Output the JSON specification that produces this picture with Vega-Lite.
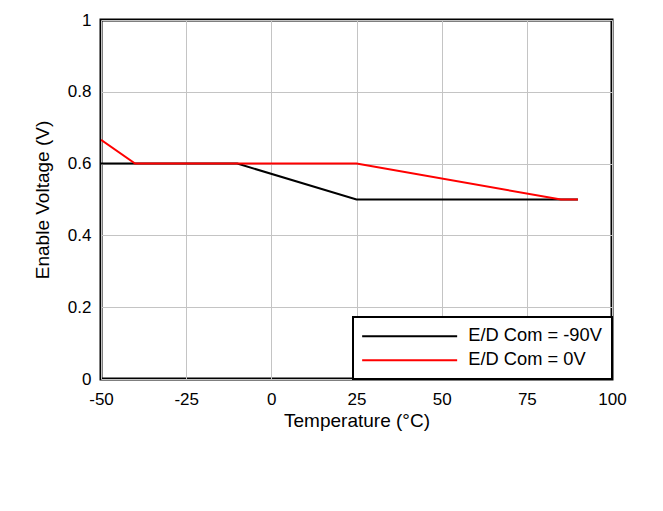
{
  "$schema": "https://vega.github.io/schema/vega-lite/v6.json",
  "width": 511,
  "height": 359,
  "autosize": {"type": "none"},
  "padding": {"left": 101, "top": 20, "right": 51, "bottom": 132},
  "background": "white",
  "config": {
    "font": "Liberation Sans",
    "view": {"stroke": "black", "strokeWidth": 3},
    "axis": {
      "labelFont": "Liberation Sans",
      "titleFont": "Liberation Sans",
      "labelFontSize": 17,
      "titleFontSize": 19,
      "labelColor": "black",
      "titleColor": "black",
      "titleFontWeight": "normal",
      "ticks": false,
      "domain": false,
      "gridColor": "#c4c4c4",
      "gridWidth": 1,
      "gridOpacity": 1
    }
  },
  "data": {
    "values": [
      {"temp": -50, "v": 0.6, "s": "E/D Com = -90V"},
      {"temp": -40, "v": 0.6, "s": "E/D Com = -90V"},
      {"temp": -10, "v": 0.6, "s": "E/D Com = -90V"},
      {"temp": 25, "v": 0.5, "s": "E/D Com = -90V"},
      {"temp": 90, "v": 0.5, "s": "E/D Com = -90V"},
      {"temp": -50, "v": 0.666, "s": "E/D Com = 0V"},
      {"temp": -40, "v": 0.6, "s": "E/D Com = 0V"},
      {"temp": 25, "v": 0.6, "s": "E/D Com = 0V"},
      {"temp": 85, "v": 0.5, "s": "E/D Com = 0V"},
      {"temp": 90, "v": 0.5, "s": "E/D Com = 0V"}
    ]
  },
  "mark": {"type": "line", "strokeWidth": 2, "clip": true},
  "encoding": {
    "x": {
      "field": "temp",
      "type": "quantitative",
      "title": "Temperature (°C)",
      "scale": {"domain": [-50, 100], "nice": false},
      "axis": {"values": [-50, -25, 0, 25, 50, 75, 100], "labelExpr": "'' + datum.value", "labelPadding": 12, "titlePadding": 4, "labelFlush": false}
    },
    "y": {
      "field": "v",
      "type": "quantitative",
      "title": "Enable Voltage (V)",
      "scale": {"domain": [0, 1], "nice": false},
      "axis": {"values": [0, 0.2, 0.4, 0.6, 0.8, 1], "labelExpr": "'' + datum.value", "labelPadding": 10, "titlePadding": 15, "labelFlush": false}
    },
    "color": {
      "field": "s",
      "type": "nominal",
      "scale": {"domain": ["E/D Com = -90V", "E/D Com = 0V"], "range": ["black", "#ff0000"]},
      "legend": {
        "title": null,
        "orient": "bottom-right",
        "offset": 0,
        "padding": 10,
        "strokeColor": "black",
        "symbolType": "M-2,0H17",
        "symbolSize": 100,
        "symbolStrokeWidth": 2,
        "labelFontSize": 18.3,
        "labelFont": "Liberation Sans",
        "labelColor": "black",
        "labelOffset": 87,
        "labelLimit": 300,
        "rowPadding": 5,
        "encode": {"legend": {"update": {"strokeWidth": {"value": 2}, "fill": {"value": "white"}}}}
      }
    }
  }
}
